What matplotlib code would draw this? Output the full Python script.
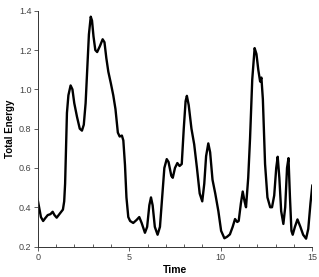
import matplotlib
matplotlib.use("Agg")
import matplotlib.pyplot as plt
from matplotlib.ticker import MultipleLocator

plt.rcParams['font.family'] = ['Liberation Sans', 'DejaVu Sans']

# values
time = [0.00, 0.08, 0.18, 0.30, 0.42, 0.55, 0.70, 0.82, 0.92, 1.04, 1.15, 1.27, 1.38,
        1.45, 1.50, 1.55, 1.60, 1.68, 1.80, 1.90, 2.00, 2.15, 2.30, 2.42, 2.52, 2.62,
        2.72, 2.80, 2.90, 2.97, 3.05, 3.15, 3.25, 3.40, 3.55, 3.65, 3.75, 3.86, 4.00,
        4.13, 4.25, 4.38, 4.48, 4.60, 4.68, 4.77, 4.85, 4.95, 5.05, 5.22, 5.40, 5.55,
        5.68, 5.86, 5.98, 6.10, 6.19, 6.28, 6.40, 6.55, 6.68, 6.80, 6.92, 7.05, 7.15,
        7.30, 7.38, 7.50, 7.63, 7.75, 7.87, 7.98, 8.08, 8.15, 8.25, 8.40, 8.55, 8.70,
        8.85, 8.99, 9.10, 9.20, 9.32, 9.42, 9.55, 9.70, 9.87, 10.02, 10.20, 10.35,
        10.50, 10.65, 10.78, 10.90, 10.98, 11.10, 11.20, 11.30, 11.38, 11.50, 11.60,
        11.72, 11.85, 11.95, 12.05, 12.15, 12.22, 12.30, 12.42, 12.55, 12.70, 12.80,
        12.92, 13.03, 13.11, 13.20, 13.30, 13.42, 13.52, 13.62, 13.70, 13.78, 13.86,
        13.93, 14.05, 14.19, 14.35, 14.50, 14.66, 14.78, 14.90, 15.00]
energy = [0.44, 0.40, 0.35, 0.33, 0.345, 0.36, 0.365, 0.377, 0.36, 0.347, 0.36, 0.375, 0.388,
          0.43, 0.52, 0.70, 0.88, 0.97, 1.02, 1.00, 0.93, 0.86, 0.80, 0.79, 0.82, 0.93,
          1.12, 1.28, 1.37, 1.35, 1.27, 1.20, 1.19, 1.22, 1.255, 1.24, 1.16, 1.09, 1.03,
          0.97, 0.90, 0.78, 0.76, 0.765, 0.74, 0.615, 0.45, 0.35, 0.33, 0.32, 0.335, 0.35,
          0.32, 0.27, 0.30, 0.41, 0.45, 0.41, 0.30, 0.26, 0.30, 0.45, 0.60, 0.645, 0.63,
          0.56, 0.55, 0.60, 0.625, 0.61, 0.62, 0.80, 0.94, 0.967, 0.92, 0.80, 0.72, 0.60,
          0.47, 0.43, 0.52, 0.66, 0.725, 0.68, 0.54, 0.47, 0.38, 0.28, 0.242, 0.25,
          0.262, 0.30, 0.34, 0.325, 0.33, 0.42, 0.48, 0.43, 0.40, 0.55, 0.75,
          1.05, 1.21, 1.18, 1.10, 1.04, 1.06, 0.95, 0.62, 0.45, 0.40, 0.40,
          0.46, 0.60, 0.657, 0.55, 0.38, 0.315, 0.40, 0.60, 0.65, 0.45, 0.28,
          0.26, 0.30, 0.338, 0.30, 0.26, 0.24, 0.29, 0.42, 0.51]

fig = plt.figure(figsize=(3.19, 2.77), dpi=100)
ax = fig.add_axes([0.118, 0.110, 0.861, 0.851])
ax.plot(time, energy, color="black", linewidth=1.7, solid_joinstyle="round")

ax.set_xlim(0, 15)
ax.set_ylim(0.2, 1.4)
ax.set_xticks([0, 5, 10, 15])
ax.set_yticks([0.2, 0.4, 0.6, 0.8, 1.0, 1.2, 1.4])
ax.set_yticklabels(["0.2", "0.4", "0.6", "0.8", "1.0", "1.2", "1.4"])
ax.xaxis.set_minor_locator(MultipleLocator(1))
ax.spines["top"].set_visible(False)
ax.spines["right"].set_visible(False)
ax.tick_params(axis="both", which="major", labelsize=6.5, length=3, width=0.6,
               colors="#444444", pad=1.5)
ax.tick_params(axis="x", which="minor", direction="in", length=2.5, width=0.6, colors="#444444")
for s in ("left", "bottom"):
    ax.spines[s].set_linewidth(0.7)
    ax.spines[s].set_color("#333333")

ax.set_xlabel("Time", fontsize=7.5, fontweight="bold", labelpad=2)
ax.set_ylabel("Total Energy", fontsize=7, fontweight="bold", labelpad=3)

fig.savefig("out.png", dpi=100)
